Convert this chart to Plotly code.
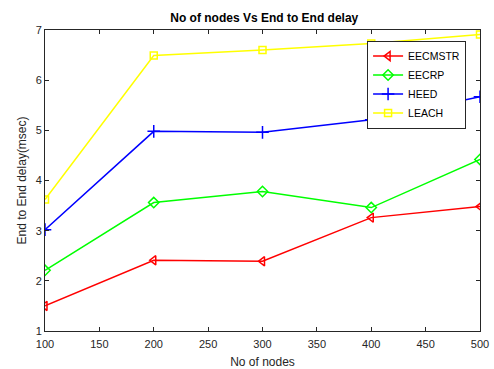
import plotly.graph_objects as go

nodes = [100, 200, 300, 400, 500]
eecmstr = [1.5, 2.41, 2.39, 3.26, 3.48]
eecrp = [2.21, 3.56, 3.78, 3.46, 4.42]
heed = [3.02, 4.98, 4.96, 5.21, 5.67]
leach = [3.62, 6.49, 6.6, 6.73, 6.91]

series = [
    ("EECMSTR", eecmstr, "#ff0000", "triangle-left-open", 8),
    ("EECRP", eecrp, "#00ff00", "diamond-open", 8),
    ("HEED", heed, "#0000ff", "cross-thin-open", 9),
    ("LEACH", leach, "#ffff00", "square-open", 7),
]

fig = go.Figure()
for name, vals, color, sym, sz in series:
    fig.add_trace(go.Scatter(
        x=nodes, y=vals, name=name, mode="lines+markers",
        line=dict(color=color, width=1.5),
        marker=dict(symbol=sym, size=sz, color=color, line=dict(color=color, width=1.5)),
    ))

axis_common = dict(
    showgrid=False, zeroline=False, showline=True, linecolor="#262626", linewidth=1,
    mirror="ticks", ticks="inside", ticklen=4, tickcolor="#262626", automargin=False,
    tickfont=dict(family="Liberation Sans, Arial", size=11, color="#262626"),
)

fig.update_layout(
    width=494, height=369,
    margin=dict(l=45, r=14, t=30, b=38),
    paper_bgcolor="white", plot_bgcolor="white",
    title=dict(text="<b>No of nodes Vs End to End delay</b>", x=0.535, xanchor="center",
               y=0.952, yanchor="middle",
               font=dict(family="Liberation Sans, Arial", size=12, color="black")),
    xaxis=dict(range=[100, 500], tickvals=list(range(100, 501, 50)), ticklabelstandoff=3,
               title=dict(text="No of nodes", standoff=9,
                          font=dict(family="Liberation Sans, Arial", size=12, color="#262626")),
               **axis_common),
    yaxis=dict(range=[1, 7], tickvals=[1, 2, 3, 4, 5, 6, 7],
               title=dict(text="End to End delay(msec)", standoff=6,
                          font=dict(family="Liberation Sans, Arial", size=12, color="#262626")),
               **axis_common),
    legend=dict(x=0.968, y=0.965, xanchor="right", yanchor="top",
                bgcolor="white", bordercolor="#262626", borderwidth=1,
                font=dict(family="Liberation Sans, Arial", size=10.5, color="black"),
                tracegroupgap=0, itemwidth=30),
    showlegend=True,
)

fig.write_html("out.html")
